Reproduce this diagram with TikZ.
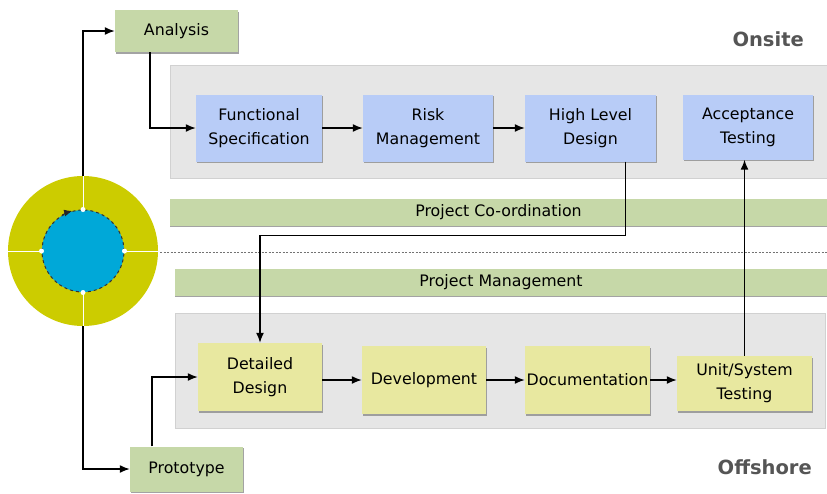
\documentclass[tikz,border=0pt]{standalone}
\usepackage{fontspec}
\setmainfont{DejaVu Sans}
\usetikzlibrary{arrows.meta,shadows}
\definecolor{boxgreen}{RGB}{198,216,168}
\definecolor{boxblue}{RGB}{184,204,247}
\definecolor{boxyellow}{RGB}{232,232,160}
\definecolor{bandgray}{RGB}{230,230,230}
\definecolor{ringyellow}{RGB}{204,204,0}
\definecolor{corecyan}{RGB}{0,168,216}
\definecolor{titlegray}{RGB}{85,85,85}
\tikzset{
  base/.style={rectangle, inner sep=0pt, align=center, font=\fontsize{15.8}{24}\selectfont,
    drop shadow={shadow xshift=1.2pt, shadow yshift=-1.5pt, fill=black!45, opacity=0.8}},
  greenbox/.style={base, fill=boxgreen},
  bluebox/.style={base, fill=boxblue},
  yellowbox/.style={base, fill=boxyellow},
  band/.style={rectangle, inner sep=0pt, fill=bandgray, draw=black!18, line width=1pt},
  bar/.style={rectangle, inner sep=0pt, fill=boxgreen, font=\fontsize{15.8}{18}\selectfont,
    drop shadow={shadow xshift=0pt, shadow yshift=-1.5pt, fill=black!45, opacity=0.8}},
  conn/.style={line width=1.5pt, -{Latex[length=10pt,width=8pt]}},
  title/.style={font=\bfseries\fontsize{19.5}{22}\selectfont, text=titlegray, inner sep=0pt}
}
\begin{document}
\begin{tikzpicture}[x=1pt,y=-1pt]
\useasboundingbox (0,0) rectangle (827,493);
% bands
\node[band, minimum width=657, minimum height=113] (onband) at (498.5,121.5) {};
\node[band, minimum width=650, minimum height=115] (offband) at (500,370.5) {};
% bars
\node[bar, minimum width=657, minimum height=27] (coord) at (498.5,212) {Project Co-ordination};
\node[bar, minimum width=652, minimum height=27] (mgmt) at (501,282) {Project Management};
% dashed separator
\coordinate (dl) at (160,252);
\coordinate (dr) at (827,252);
\draw[black!55, line width=0.8pt, dash pattern=on 2pt off 1.5pt] (dl) -- (dr);
% titles
\node[title, anchor=east] (onsite) at (804,39) {Onsite};
\node[title, anchor=east] (offshore) at (812,467) {Offshore};
% boxes
\node[greenbox, minimum width=123, minimum height=42] (analysis) at (176.5,31) {Analysis};
\node[greenbox, minimum width=113, minimum height=45] (proto) at (186.5,469) {Prototype};
\node[bluebox, minimum width=126, minimum height=67] (fs) at (259,128) {Functional\\Specification};
\node[bluebox, minimum width=130, minimum height=67] (risk) at (428,128) {Risk\\Management};
\node[bluebox, minimum width=131, minimum height=67] (hld) at (590.5,128) {High Level\\Design};
\node[bluebox, minimum width=130, minimum height=65] (at) at (748,127) {Acceptance\\Testing};
\node[yellowbox, minimum width=124, minimum height=68] (dd) at (260,377) {Detailed\\Design};
\node[yellowbox, minimum width=124, minimum height=68] (dev) at (424,380) {Development};
\node[yellowbox, minimum width=125, minimum height=68] (doc) at (587.5,380) {Documentation};
\node[yellowbox, minimum width=135, minimum height=55] (ust) at (744.5,383.5) {Unit/System\\Testing};
% lifecycle circle
\node[circle, inner sep=0pt, minimum size=150, fill=ringyellow] (ring) at (83,251) {};
\draw[white, line width=1pt] (ring.north) -- (ring.south);
\draw[white, line width=1pt] (ring.west) -- (ring.east);
\node[circle, inner sep=0pt, minimum size=82, fill=corecyan, draw=black!80, dashed, line width=1pt] (core) at (83,251) {};
\foreach \a in {0,90,180,270}{\fill[white] (core.\a) circle (2.5);}
\draw[-{Latex[length=8pt,width=7pt]}, black!85, line width=1pt] (core.120) arc[start angle=-120, end angle=-105, radius=41];
% connectors
\draw[conn] (ring.north) |- (analysis.west);
\draw[conn] ([xshift=35]analysis.south west) |- (fs.west);
\draw[conn] (fs.east) -- (risk.west);
\draw[conn] (risk.east) -- (hld.west);
\draw[conn] ([xshift=35]hld.south) -- ++(0,74) -| (dd.north);
\draw[conn] (ust.north) -- (ust.north |- at.south);
\draw[conn] (ring.south) |- (proto.west);
\draw[conn] ([xshift=22]proto.north west) |- (dd.west);
\draw[conn] (dd.east |- dev.west) -- (dev.west);
\draw[conn] (dev.east) -- (doc.west);
\draw[conn] (doc.east) -- (doc.east -| ust.west);
\end{tikzpicture}
\end{document}
